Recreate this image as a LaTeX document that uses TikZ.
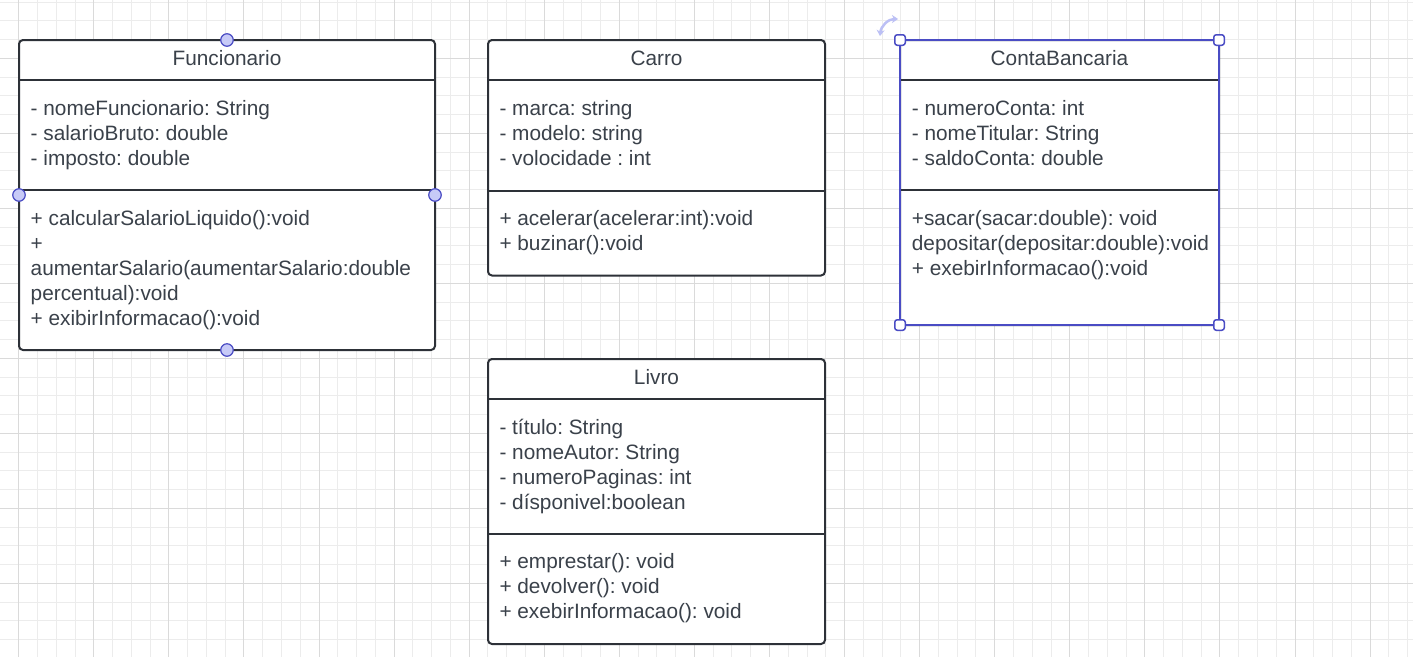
\documentclass[tikz,border=0pt]{standalone}
\usepackage{fontspec}
\setmainfont{Liberation Sans}
\usetikzlibrary{arrows.meta}
\definecolor{txt}{HTML}{3A414A}
\definecolor{boxline}{HTML}{2D3138}
\definecolor{gminor}{HTML}{ECECEC}
\definecolor{gmajor}{HTML}{DADADA}
\definecolor{selblue}{HTML}{4A4CC4}
\definecolor{hfill}{HTML}{C7CAF7}
\definecolor{rotcol}{HTML}{BCC0F5}
\tikzset{
  classbox/.style={draw=boxline, line width=2pt, fill=white, rounded corners=4pt, inner sep=0pt, outer sep=0pt},
  divline/.style={draw=boxline, line width=2pt},
  title/.style={anchor=base, inner sep=0pt, text=txt, font=\fontsize{20.8}{25}\selectfont\frenchspacing},
  member/.style={anchor=base west, inner sep=0pt, text=txt, font=\fontsize{20.8}{25}\selectfont\frenchspacing},
  gridminor/.style={draw=gminor, line width=1pt},
  gridmajor/.style={draw=gmajor, line width=1pt},
  roundhandle/.style={circle, draw=selblue, fill=hfill, line width=1.2pt, minimum size=12.5pt, inner sep=0pt},
  squarehandle/.style={rectangle, draw=selblue, fill=white, line width=1.5pt, rounded corners=2.5pt, minimum size=10.5pt, inner sep=0pt},
  selline/.style={draw=selblue, line width=1.6pt},
}
\frenchspacing
\begin{document}
\begin{tikzpicture}[x=1pt,y=-1pt]
\useasboundingbox (0,0) rectangle (1413,657);
\fill[white] (0,0) rectangle (1413,657);
% grid
\foreach \i in {0,...,76} \draw[gridminor] ({-0.07+18.77*\i},0) -- ++(0,657);
\foreach \j in {0,...,35} \draw[gridminor] (0,{2.05+18.75*\j}) -- ++(1413,0);
\foreach \i in {0,...,18} \draw[gridmajor] ({18.7+75.08*\i},0) -- ++(0,657);
\foreach \j in {-1,...,8} \draw[gridmajor] (0,{58.3+75*\j}) -- ++(1413,0);

% Funcionario
\node[classbox, minimum width=416pt, minimum height=310pt] (func) at (227,195) {};
\draw[divline] (func.west |- 0,80) -- (func.east |- 0,80);
\draw[divline] (func.west |- 0,190) -- (func.east |- 0,190);
\node[title] (funct) at (227,65) {Funcionario};
\node[member] (fa1) at (30.5,115.5) {- nomeFuncionario: String};
\node[member] (fa2) at (30.5,140.5) {- salarioBruto: double};
\node[member] (fa3) at (30.5,165.5) {- imposto: double};
\node[member] (fm1) at (30.5,225) {+ calcularSalarioLiquido():void};
\node[member] (fm2) at (30.5,250) {+};
\node[member] (fm3) at (30.5,275) {aumentarSalario(aumentarSalario:double};
\node[member] (fm4) at (30.5,300) {percentual):void};
\node[member] (fm5) at (30.5,325) {+ exibirInformacao():void};
\node[roundhandle] (fhn) at (func.north) {};
\node[roundhandle] (fhs) at (func.south) {};
\node[roundhandle] (fhw) at (func.west) {};
\node[roundhandle] (fhe) at (func.east) {};

% Carro
\node[classbox, minimum width=337pt, minimum height=235.5pt] (carro) at (656.5,157.75) {};
\draw[divline] (carro.west |- 0,80) -- (carro.east |- 0,80);
\draw[divline] (carro.west |- 0,190.5) -- (carro.east |- 0,190.5);
\node[title] (carrot) at (656.5,65) {Carro};
\node[member] (ca1) at (499.3,115.5) {- marca: string};
\node[member] (ca2) at (499.3,140.5) {- modelo: string};
\node[member] (ca3) at (499.3,165.5) {- volocidade : int};
\node[member] (cm1) at (499.3,225) {+ acelerar(acelerar:int):void};
\node[member] (cm2) at (499.3,250) {+ buzinar():void};

% Livro
\node[classbox, minimum width=337pt, minimum height=285pt] (livro) at (656.5,501.5) {};
\draw[divline] (livro.west |- 0,399) -- (livro.east |- 0,399);
\draw[divline] (livro.west |- 0,533.5) -- (livro.east |- 0,533.5);
\node[title] (livrot) at (656.5,384) {Livro};
\node[member] (la1) at (499.3,434.5) {- título: String};
\node[member] (la2) at (499.3,459.5) {- nomeAutor: String};
\node[member] (la3) at (499.3,484.5) {- numeroPaginas: int};
\node[member] (la4) at (499.3,509.5) {- dísponivel:boolean};
\node[member] (lm1) at (499.3,568.5) {+ emprestar(): void};
\node[member] (lm2) at (499.3,593.5) {+ devolver(): void};
\node[member] (lm3) at (499.3,618.5) {+ exebirInformacao(): void};

% ContaBancaria
\node[classbox, minimum width=319pt, minimum height=285pt] (conta) at (1059.5,182.5) {};
\draw[divline] (conta.west |- 0,80) -- (conta.east |- 0,80);
\draw[divline] (conta.west |- 0,190.3) -- (conta.east |- 0,190.3);
\node[title] (contat) at (1059.5,65) {ContaBancaria};
\node[member] (ba1) at (911.7,115.5) {- numeroConta: int};
\node[member] (ba2) at (911.7,140.5) {- nomeTitular: String};
\node[member] (ba3) at (911.7,165.5) {- saldoConta: double};
\node[member] (bm1) at (911.7,225) {+sacar(sacar:double): void};
\node[member] (bm2) at (911.7,250) {depositar(depositar:double):void};
\node[member] (bm3) at (911.7,275) {+ exebirInformacao():void};
\draw[selline] (conta.north west) rectangle (conta.south east);
\node[squarehandle] (bhnw) at (conta.north west) {};
\node[squarehandle] (bhne) at (conta.north east) {};
\node[squarehandle] (bhsw) at (conta.south west) {};
\node[squarehandle] (bhse) at (conta.south east) {};
% rotate icon
\draw[rotcol, line width=2.5pt, {Stealth[length=6pt,width=8pt]}-{Stealth[length=6pt,width=8pt]}]
  (880,36) .. controls (881,26) and (888,19) .. (898,19);
\end{tikzpicture}
\end{document}
